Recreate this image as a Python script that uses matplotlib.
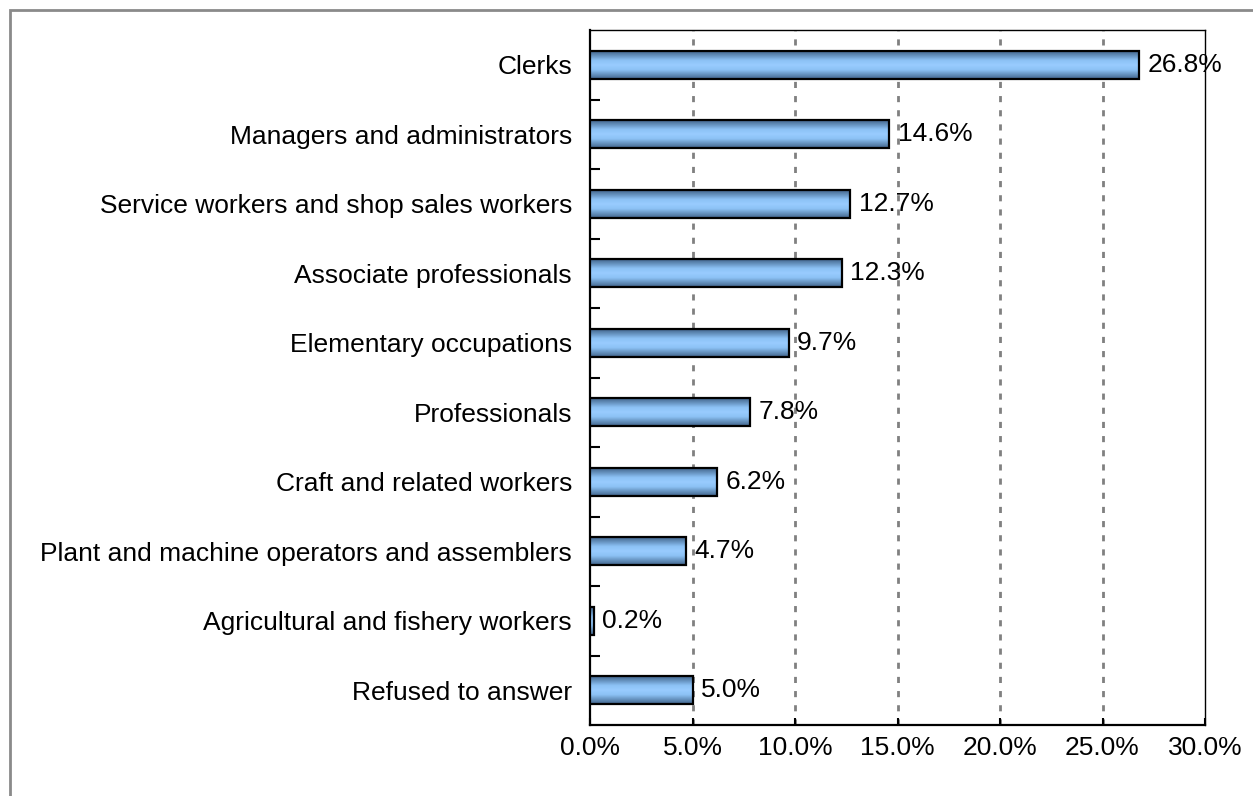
import numpy as np
import matplotlib
matplotlib.use("Agg")
import matplotlib.pyplot as plt
from matplotlib.colors import LinearSegmentedColormap
from matplotlib.patches import Rectangle

plt.rcParams['font.family'] = ['Liberation Sans', 'DejaVu Sans']

# données
categories = ["Clerks",
              "Managers and administrators",
              "Service workers and shop sales workers",
              "Associate professionals",
              "Elementary occupations",
              "Professionals",
              "Craft and related workers",
              "Plant and machine operators and assemblers",
              "Agricultural and fishery workers",
              "Refused to answer"]
values = [26.8, 14.6, 12.7, 12.3, 9.7, 7.8, 6.2, 4.7, 0.2, 5.0]
xticks = [0, 5, 10, 15, 20, 25, 30]

W, H = 1253, 796
fig = plt.figure(figsize=(W/100, H/100), dpi=100)
ax = fig.add_axes([590/W, 1-725/H, (1205-590)/W, (725-30)/H])

fs = 19
bar_h = 0.4
cmap = LinearSegmentedColormap.from_list(
    "barre", [(0, '#42658c'), (0.33, '#8cc2f5'), (0.5, '#99ccff'),
              (0.67, '#8cc2f5'), (1, '#42658c')])
grad = np.linspace(0, 1, 64).reshape(-1, 1)

y = np.arange(len(categories))
for yi, v in zip(y, values):
    ax.imshow(grad, extent=[0, v, yi+bar_h/2, yi-bar_h/2], aspect='auto',
              cmap=cmap, zorder=3, interpolation='bilinear')
ax.barh(y, values, height=bar_h, fill=False, edgecolor='black', linewidth=1.6, zorder=4)

for yi, v in zip(y, values):
    ax.annotate(f"{v:.1f}%", (v, yi), xytext=(6, 0), textcoords='offset points',
                va='center', ha='left', fontsize=fs, zorder=5)

ax.set_xlim(0, 30)
ax.set_ylim(len(categories)-0.5, -0.5)

# grille verticale
for xv in xticks[1:-1]:
    ax.axvline(xv, color='#808080', linewidth=2.0, linestyle=(0, (2.2, 2.9)), zorder=1)

ax.set_xticks(xticks)
ax.set_xticklabels([f"{v:.1f}%" for v in xticks])
ax.tick_params(axis='x', direction='in', length=5, width=1.5, pad=8, labelsize=fs)

ax.set_yticks(y)
ax.set_yticklabels(categories)
ax.set_yticks(np.arange(0.5, len(categories)-0.5, 1), minor=True)
ax.tick_params(axis='y', which='major', length=0, pad=13, labelsize=fs)
ax.tick_params(axis='y', which='minor', direction='in', length=7, width=1.5)

for s in ['left', 'bottom']:
    ax.spines[s].set_linewidth(1.6)
for s in ['top', 'right']:
    ax.spines[s].set_linewidth(1.0)

# cadre gris autour de la figure
fig.patches.append(Rectangle((9.5/W, -0.1), 1.2, 1.1-9.5/H, transform=fig.transFigure,
                             fill=False, edgecolor='#8a8a8a', linewidth=2.0))

fig.savefig("out.png", dpi=100)
